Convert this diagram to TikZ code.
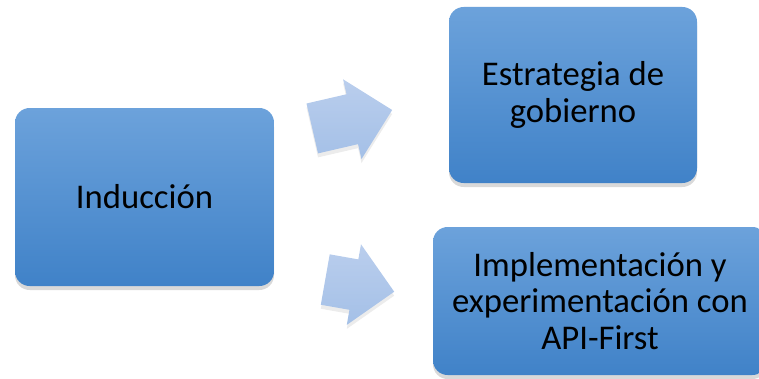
\documentclass[tikz,border=0pt]{standalone}
\usepackage{fontspec}
\setmainfont{Carlito}
\usetikzlibrary{shapes.arrows,shadows}
\definecolor{boxtop}{RGB}{108,162,219}
\definecolor{boxbot}{RGB}{64,130,200}
\definecolor{arrtop}{RGB}{186,206,237}
\definecolor{arrbot}{RGB}{164,192,231}
\begin{document}
\begin{tikzpicture}[x=0.75pt,y=-0.75pt,
  stage/.style={rounded corners=11pt,top color=boxtop,bottom color=boxbot,
    drop shadow={opacity=0.3,shadow xshift=0pt,shadow yshift=-3pt},
    align=center,font=\fontsize{26pt}{27.5pt}\selectfont},
  blockarrow/.style={single arrow,inner xsep=0pt,inner ysep=19pt,minimum height=#1,anchor=tail,
    single arrow head extend=11.5pt,top color=arrtop,bottom color=arrbot,
    drop shadow={opacity=0.15,shadow xshift=0pt,shadow yshift=-3pt}}]
  \useasboundingbox (0,0) rectangle (759,378);
  \node[stage,minimum width=194.25pt,minimum height=133.5pt] (induccion) at (144.5,197) {Inducción};
  \node[stage,minimum width=186pt,minimum height=132pt] (estrategia) at (573,95) {Estrategia de\\gobierno};
  \node[stage,minimum width=250.5pt,minimum height=111pt] (implementacion) at (600,301) {Implementación y\\experimentación con\\API-First};
  \node[blockarrow=61.5pt,rotate=13] (flechaarriba) at (312,128.5) {};
  \node[blockarrow=52.5pt,rotate=-10] (flechaabajo) at (325,279.5) {};
\end{tikzpicture}
\end{document}
